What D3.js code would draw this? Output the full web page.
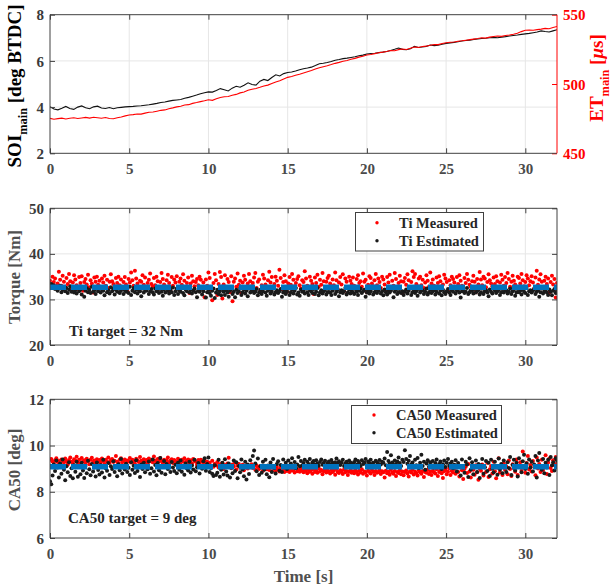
<!DOCTYPE html>
<html><head><meta charset="utf-8">
<script src="https://cdn.jsdelivr.net/npm/d3@7"></script>
<style>
body{margin:0;background:#fff}
svg{display:block}
text{font-family:"Liberation Serif","Times New Roman",serif;font-weight:bold}
</style>
</head><body><svg id="c" width="613" height="586"></svg>
<script>
// ---------- DATA ----------
const lineStep = 0.25;      // s between samples of the top-panel traces
const scatterStep = 0.08;   // s between cycles in the scatter panels
const timeDomain = [0, 32];
const xTicks = [0, 5, 10, 15, 20, 25, 30];
const soiTicks = [2, 4, 6, 8];
const etTicks = [450, 500, 550];
const torqueTicks = [20, 30, 40, 50];
const ca50Ticks = [6, 8, 10, 12];

// SOI main [deg BTDC] (black, left axis)
const soiMain = [4.02,3.92,3.88,3.95,4.03,3.94,3.90,4.00,4.05,3.97,3.93,4.01,4.04,3.96,3.94,3.98,3.93,3.97,3.99,4.01,
4.02,4.03,4.05,4.06,4.08,4.10,4.13,4.16,4.20,4.22,4.26,4.29,4.31,4.33,4.38,4.42,4.47,4.52,4.58,4.62,
4.66,4.65,4.72,4.80,4.75,4.70,4.82,4.90,4.86,4.95,5.05,4.98,4.95,5.12,5.20,5.15,5.28,5.40,5.35,5.45,
5.50,5.52,5.56,5.62,5.66,5.69,5.73,5.80,5.88,5.90,5.93,5.97,6.03,6.06,6.10,6.12,6.15,6.18,6.22,6.25,
6.30,6.32,6.33,6.36,6.38,6.41,6.45,6.50,6.56,6.50,6.48,6.53,6.63,6.58,6.60,6.63,6.69,6.66,6.68,6.72,
6.76,6.78,6.80,6.83,6.86,6.88,6.90,6.93,6.95,6.97,6.98,7.00,7.02,7.00,7.03,7.05,7.08,7.10,7.12,7.15,
7.17,7.19,7.22,7.25,7.30,7.27,7.25,7.30,7.35];

// ET main [us] (red, right axis)
const etMain = [475.2,474.6,475.0,475.4,474.8,475.3,475.6,475.1,475.5,475.9,475.4,476.0,475.7,475.3,475.8,475.1,474.9,475.6,476.2,477.0,
477.6,477.9,478.4,478.3,479.0,479.6,479.8,480.4,481.0,481.3,482.2,482.8,483.5,484.0,484.8,485.1,486.0,486.6,487.3,487.9,
488.6,488.2,489.4,490.3,490.8,491.0,491.9,492.5,493.6,494.2,495.5,496.2,496.8,497.6,498.5,499.2,500.4,501.5,502.3,503.6,
504.8,505.4,506.3,507.1,508.0,508.9,509.8,510.8,511.7,512.5,513.2,514.0,514.9,515.6,516.4,517.0,517.9,518.5,519.4,520.0,
520.9,521.3,521.9,522.6,523.0,523.5,524.2,524.0,524.8,525.3,524.9,525.8,526.7,526.4,527.1,527.3,528.0,528.5,528.4,529.2,
529.8,530.1,530.3,530.9,531.2,531.6,532.0,532.4,532.8,533.4,533.1,533.8,534.3,534.6,534.4,535.0,535.3,535.9,536.6,537.8,
538.8,538.9,538.8,539.2,539.6,540.1,539.9,540.8,541.5];

// Torque [Nm]
const torqueMeasured = [34.1,33.2,35.0,33.8,34.6,32.9,33.5,36.1,34.3,33.0,35.2,33.9,32.8,34.7,33.4,35.6,34.0,32.6,33.7,35.3,
34.4,33.1,32.3,34.9,33.6,35.1,31.9,33.8,34.5,33.3,35.4,32.7,34.2,33.5,31.5,34.8,33.9,35.0,33.2,34.1,
32.8,34.6,33.7,35.2,33.0,34.3,32.5,33.9,35.5,34.0,33.4,32.9,34.7,33.6,35.0,33.1,34.4,32.4,33.8,34.9,
33.3,31.8,34.5,33.7,35.9,34.2,33.0,36.3,34.6,33.5,32.7,34.1,33.9,35.3,33.2,34.8,32.6,33.6,34.3,35.7,
33.4,32.9,34.7,33.1,35.0,34.0,32.4,33.8,35.8,34.5,33.3,32.8,34.2,35.4,33.6,31.9,34.9,33.0,34.4,33.7,
35.1,32.7,33.9,34.6,33.2,35.5,34.1,32.5,33.6,34.8,31.4,33.5,35.2,34.0,32.9,33.8,34.5,33.1,35.0,34.3,
32.6,33.7,30.5,34.4,33.0,35.9,34.7,32.1,29.8,33.6,35.6,34.2,31.0,33.4,36.0,34.9,30.2,33.3,35.3,32.4,
34.5,33.8,31.6,35.1,29.6,33.9,34.6,32.8,35.7,33.2,34.1,31.3,33.7,35.2,34.3,32.7,33.5,35.6,34.0,32.9,
33.6,34.8,35.8,32.5,33.9,34.4,31.9,33.1,35.4,34.6,33.3,32.8,34.2,36.1,33.7,34.9,32.6,33.4,35.0,34.1,
33.0,36.5,34.7,32.3,33.8,35.3,34.0,31.7,33.5,34.9,33.2,35.6,34.3,32.9,33.6,34.5,35.1,33.1,32.4,34.2,
33.8,36.2,34.6,33.0,32.5,35.0,34.1,33.4,31.2,34.8,33.6,35.4,32.8,34.3,33.2,35.8,34.0,32.6,33.9,34.7,
35.2,33.5,32.9,34.4,33.1,35.9,34.2,32.3,33.7,34.9,33.3,35.5,31.8,34.6,33.9,32.7,35.0,34.1,33.4,34.8,
33.0,32.4,34.5,35.3,33.6,34.0,32.8,35.7,33.9,34.3,31.6,33.2,35.1,34.7,33.5,32.9,34.2,35.6,33.1,34.6,
33.8,32.5,35.0,34.4,33.3,31.9,34.9,33.7,35.4,32.8,34.1,33.0,35.8,34.5,32.6,33.6,35.2,34.0,31.4,33.9,
34.7,33.2,35.5,34.2,32.7,33.8,36.2,34.9,35.6,33.4,32.9,34.6,35.0,33.1,34.3,32.5,33.7,35.3,34.1,32.8,
35.9,33.5,34.4,33.0,32.3,34.8,33.6,35.1,34.0,32.9,33.3,35.4,34.6,33.8,31.8,34.2,33.1,35.0,34.5,33.7,
32.6,34.9,33.4,35.3,34.1,33.0,32.4,34.7,33.6,35.6,34.3,33.2,32.8,34.0,35.2,33.9,31.6,34.5,33.3,36.0,
34.4,33.1,35.0,34.6,32.7,33.8,35.5,34.2,33.5,32.9,34.8,33.4,35.1,34.0,32.5,33.7,35.4,34.3,33.0,34.9,
33.6,35.8,34.5,32.8,33.9,35.2,34.1,33.3,32.6,35.0,34.7,33.5,35.6,34.2,32.9,33.8,35.3,34.6,33.1,34.0,
35.1,33.7,32.4,34.8,36.3,33.2,34.4,35.5,33.9,32.7,34.1,35.0,33.4,34.6,31.5,33.8,35.2,33.3,34.5,30.4,
33.6];
const torqueEstimated = [32.9,33.4,32.6,33.1,32.3,32.8,31.9,32.4,33.0,31.6,32.2,32.7,31.8,32.5,31.4,32.1,32.9,31.7,32.3,31.5,
32.0,31.3,32.6,31.8,32.2,31.1,32.4,30.6,31.9,32.5,31.6,32.1,31.4,32.8,31.7,32.0,31.2,32.4,31.8,32.6,
31.5,32.2,31.9,30.9,32.5,31.6,32.0,31.3,32.7,31.8,32.3,31.1,32.1,31.7,32.4,31.4,31.9,32.6,31.2,32.0,
31.7,32.3,31.4,32.8,31.0,31.9,32.5,31.6,32.2,31.3,32.0,31.8,30.7,32.4,31.5,32.1,31.9,32.6,31.2,31.8,
32.3,31.6,31.1,32.4,31.8,32.0,31.4,32.7,31.7,30.8,32.2,31.5,32.5,31.9,31.3,32.1,31.6,32.6,31.0,31.8,
32.4,31.2,32.0,31.7,32.5,31.4,30.9,32.2,31.8,32.6,31.5,32.1,31.3,31.9,32.4,31.6,30.5,32.0,31.7,32.3,
31.1,31.8,32.5,30.4,31.6,32.2,31.4,30.8,31.9,32.4,30.3,31.5,32.1,31.2,31.8,30.9,32.3,31.7,31.0,32.0,
31.5,30.6,31.9,32.3,31.2,31.7,30.5,32.1,31.4,31.8,32.5,31.0,31.6,32.2,31.3,31.9,30.7,32.4,31.5,31.8,
32.0,31.4,31.7,32.3,30.9,31.6,32.1,31.2,31.8,32.5,31.5,30.8,31.9,32.2,31.3,31.7,32.4,31.1,31.6,32.0,
31.4,31.8,32.3,30.6,31.5,32.0,31.2,31.7,32.4,31.0,31.6,32.1,31.3,31.9,32.5,31.1,31.5,30.8,32.2,31.7,
31.9,31.3,32.4,31.6,31.0,32.1,31.8,31.4,32.3,31.2,31.7,32.5,30.9,31.5,32.0,31.3,31.8,32.2,31.1,31.6,
32.3,31.5,31.0,31.9,32.4,31.2,31.7,32.1,30.7,31.6,32.0,31.4,31.8,32.5,31.1,31.5,32.2,31.3,31.9,31.6,
31.2,32.3,31.7,31.0,31.9,32.4,31.4,31.8,32.1,30.6,31.5,32.0,31.3,31.8,32.4,31.1,31.6,32.2,31.4,31.9,
32.5,31.3,31.8,30.9,32.2,31.6,31.1,32.0,31.5,31.9,32.4,30.5,31.7,32.1,31.2,31.6,32.3,31.4,31.8,31.0,
31.7,32.2,31.3,31.9,32.5,31.0,31.6,32.1,31.4,31.8,30.8,32.3,31.5,31.9,32.0,31.2,31.7,32.4,31.1,31.6,
32.2,31.4,31.8,32.0,31.1,31.7,32.5,31.3,31.9,30.9,32.1,31.6,31.2,31.8,32.3,31.5,31.0,32.0,31.7,32.4,
31.3,31.9,32.2,31.5,30.4,31.8,32.1,31.4,31.7,32.5,31.2,31.6,32.0,31.9,31.3,32.3,31.5,31.8,32.2,31.1,
31.6,32.4,31.2,31.8,32.0,31.5,30.7,32.2,31.7,31.3,32.5,31.9,31.4,31.8,32.1,31.0,31.6,32.3,31.5,31.9,
32.0,31.3,31.7,32.4,31.2,31.8,32.1,30.8,31.5,32.3,31.6,31.9,31.1,32.2,31.7,31.4,32.5,31.0,31.8,32.0,
31.5,31.9,32.3,31.2,31.7,32.0,30.6,31.6,32.4,31.3,31.8,32.1,31.5,31.0,32.2,31.7,30.9,31.9,32.3,31.4,
31.8];
const torqueTarget = 32.7;

// CA50 [deg]
const ca50Measured = [9.38,9.42,9.31,9.25,9.36,9.45,9.29,9.33,9.21,9.40,9.35,9.27,9.44,9.32,9.18,9.37,9.48,9.30,9.24,9.41,
9.34,9.52,9.28,9.39,9.22,9.46,9.31,9.36,9.26,9.43,9.33,9.19,9.38,9.47,9.29,9.35,9.23,9.41,9.30,9.37,
9.27,9.44,9.33,9.20,9.39,9.31,9.48,9.25,9.36,9.42,9.29,9.34,9.55,9.30,9.22,9.38,9.45,9.28,9.33,9.40,
9.24,9.35,9.31,9.46,9.27,9.39,9.32,9.21,9.43,9.36,9.29,9.50,9.34,9.26,9.41,9.30,9.37,9.23,9.44,9.32,
9.38,9.28,9.53,9.35,9.25,9.42,9.31,9.46,9.33,9.22,9.39,9.30,9.36,9.48,9.27,9.34,9.41,9.24,9.37,9.32,
9.29,9.43,9.35,9.20,9.38,9.31,9.45,9.26,9.34,9.40,9.28,9.36,9.22,9.42,9.33,9.30,9.17,9.37,9.25,9.39,
9.31,9.27,9.35,9.22,9.30,9.18,9.26,9.12,9.34,9.08,9.21,9.15,9.29,9.05,9.19,9.11,9.24,8.98,9.16,9.10,
9.22,9.47,9.13,9.02,9.18,9.09,9.25,8.96,9.14,9.20,9.04,9.11,9.17,8.93,9.08,9.15,9.01,9.12,9.06,9.19,
9.03,9.10,8.95,9.14,9.07,8.99,9.12,9.05,8.91,9.09,9.02,8.97,9.11,8.94,9.06,8.89,9.04,9.00,8.92,9.08,
8.96,8.88,9.03,8.93,8.99,8.85,9.05,8.90,8.97,8.86,9.01,8.92,8.95,8.83,9.04,8.89,8.94,8.87,9.00,8.91,
8.84,8.95,8.90,8.80,8.97,8.87,8.93,8.78,8.99,8.86,8.91,8.82,9.02,8.88,8.94,8.76,8.89,8.96,8.83,8.92,
8.87,8.79,8.95,8.85,8.91,8.74,8.98,8.86,8.81,8.93,8.88,8.77,8.96,8.84,8.90,8.72,8.87,8.94,8.82,8.89,
8.80,8.93,8.86,8.75,8.91,8.83,8.97,8.78,8.88,8.84,8.70,8.92,8.85,8.79,8.95,8.87,8.73,8.90,8.82,8.86,
8.94,8.77,8.89,8.84,8.62,8.91,8.80,8.87,8.74,8.95,8.83,8.78,8.90,8.68,8.86,8.81,8.93,8.76,8.88,8.71,
8.85,8.92,8.79,8.66,8.89,8.83,8.96,8.75,8.87,8.81,8.70,8.93,8.84,8.78,8.90,8.64,8.86,8.82,8.95,8.77,
8.88,8.73,8.91,8.84,8.79,8.97,8.68,8.86,8.93,8.80,8.60,8.89,8.95,8.76,8.87,9.02,8.72,8.90,8.83,8.98,
8.78,9.05,8.86,8.66,9.12,8.93,8.55,8.99,9.08,8.81,9.20,8.88,8.62,9.03,8.95,8.74,9.15,8.84,8.52,9.01,
8.91,9.18,8.70,9.06,8.85,9.25,8.64,8.97,9.11,8.79,9.30,8.89,8.58,9.04,9.45,8.83,9.14,8.72,9.22,8.95,
9.09,8.76,9.35,8.98,8.68,9.19,9.02,8.87,9.40,8.73,9.13,9.28,8.91,9.74,9.05,8.82,9.24,9.55,8.96,9.16,
8.88,9.33,9.07,8.71,9.48,9.01,9.20,8.85,9.38,8.94,9.12,9.58,8.77,9.27,9.44,9.03,8.90,9.36,9.15,9.50,
9.22];
const ca50Estimated = [8.45,8.32,8.70,9.18,8.90,9.35,9.05,8.62,9.22,8.78,9.40,8.95,8.50,9.10,8.84,9.28,8.68,9.02,8.58,9.15,
8.87,9.30,8.65,9.08,8.76,9.25,8.92,8.60,9.12,8.80,9.34,8.97,8.71,9.20,8.88,9.05,8.66,9.27,8.94,8.75,
9.15,8.83,9.38,8.62,9.02,8.91,9.24,8.72,9.10,8.98,9.32,8.85,9.06,8.67,9.19,8.93,9.42,8.79,9.08,8.96,
9.21,8.86,9.04,8.73,9.28,8.95,9.13,8.81,9.36,8.90,9.07,8.64,9.18,8.99,9.25,8.84,9.11,8.97,9.31,8.78,
9.02,9.40,8.88,9.16,8.71,9.24,8.93,9.46,8.82,9.09,9.33,8.76,9.20,8.98,9.12,8.85,9.29,9.05,8.90,9.17,
8.80,9.26,8.95,9.35,8.87,9.10,8.74,9.22,9.01,8.92,9.30,8.83,9.14,8.96,9.38,8.89,9.06,9.24,8.79,9.13,
9.00,9.32,9.45,8.91,9.20,9.48,8.86,9.03,8.78,8.68,9.15,8.72,8.82,9.38,8.65,8.95,9.25,8.75,9.41,8.88,
8.70,9.22,8.62,9.05,8.80,9.35,8.90,9.28,8.58,9.12,8.84,9.40,8.96,8.67,9.30,8.53,9.18,8.77,9.36,9.08,
9.55,9.78,9.22,8.89,9.44,8.72,9.10,8.82,9.30,8.95,9.38,8.76,9.14,8.63,9.27,8.86,9.42,9.03,8.79,9.20,
9.32,8.91,9.16,8.85,9.40,9.06,9.25,8.98,9.35,9.12,9.22,9.45,9.08,9.29,9.02,9.18,9.50,9.10,9.33,9.14,
9.24,9.38,9.12,9.30,9.20,9.42,9.15,9.27,9.33,9.18,9.36,9.22,9.13,9.29,9.40,9.17,9.26,9.34,9.11,9.23,
9.31,9.19,9.37,9.25,9.14,9.28,9.44,9.21,9.32,9.16,9.26,9.39,9.12,9.23,9.30,9.18,9.35,9.27,9.15,9.22,
9.29,9.40,9.17,9.33,9.24,9.12,9.36,9.20,9.27,9.42,9.15,9.31,9.23,9.38,9.19,9.26,9.13,9.34,9.28,9.21,
9.37,9.18,9.30,9.25,9.44,9.15,9.72,9.33,9.22,9.58,9.27,9.16,9.35,9.20,9.31,9.48,9.24,9.12,9.39,9.29,
9.80,9.42,9.21,9.34,9.55,9.18,9.27,9.10,9.38,9.15,9.46,9.03,9.25,9.60,9.12,9.30,8.95,9.22,9.36,9.08,
9.28,9.15,9.33,9.05,9.24,9.40,9.11,9.20,9.31,8.98,9.19,9.35,9.07,9.26,9.42,9.13,9.22,9.30,9.02,9.17,
9.36,8.88,9.24,9.12,8.70,9.40,9.05,8.82,9.30,9.18,8.64,9.45,8.95,9.28,8.76,9.10,9.35,8.85,9.20,8.60,
9.15,9.42,8.78,9.06,9.33,8.90,9.25,8.68,9.38,9.00,8.83,9.30,9.12,8.74,9.44,8.95,9.20,8.80,9.35,9.08,
8.86,9.28,9.03,9.50,8.72,9.16,9.38,8.92,9.25,8.66,9.45,9.10,8.84,9.32,9.60,8.98,9.22,8.78,9.40,9.05,
9.30,8.88,9.18,9.55,8.62,9.35,9.68,9.12,8.95,9.42,8.80,9.25,9.05,9.38,8.72,9.50,9.15,9.28,8.92,9.45,
9.35];
const ca50Target = 9.08;

// ---------- DRAWING ----------
const svg = d3.select('#c');
const L = 50, R = 557;
const x = d3.scaleLinear().domain(timeDomain).range([L, R]);
const TICK_COL = '#404040', BOX_COL = '#404040', GRID_COL = '#e6e6e6';
const RED = '#ff0000', BLUE = '#0072bd', DOT_R = 2.0;

function panel(id, top, bottom, yScale, yTicks) {
  const g = svg.append('g');
  g.selectAll('.vg').data(xTicks.filter(d => d > 0)).enter().append('line')
    .attr('x1', d => x(d)).attr('x2', d => x(d)).attr('y1', top).attr('y2', bottom)
    .attr('stroke', GRID_COL).attr('stroke-width', 1);
  g.selectAll('.hg').data(yTicks.filter(d => d > yScale.domain()[0] && d < yScale.domain()[1])).enter().append('line')
    .attr('x1', L).attr('x2', R).attr('y1', d => yScale(d)).attr('y2', d => yScale(d))
    .attr('stroke', GRID_COL).attr('stroke-width', 1);
  svg.append('clipPath').attr('id', 'clip' + id).append('rect')
    .attr('x', L).attr('y', top).attr('width', R - L).attr('height', bottom - top);
  const data = svg.append('g').attr('clip-path', `url(#clip${id})`);
  return {g, data};
}
function frame(top, bottom, yScale, yTicks, rightAxis) {
  const g = svg.append('g');
  const ax = g.append('g').attr('transform', `translate(0,${bottom})`)
    .call(d3.axisBottom(x).tickValues(xTicks).tickSize(-5).tickPadding(10.5).tickFormat(d3.format('d')));
  const at = g.append('g').attr('transform', `translate(0,${top})`)
    .call(d3.axisTop(x).tickValues(xTicks).tickSize(-5).tickFormat(''));
  const al = g.append('g').attr('transform', `translate(${L},0)`)
    .call(d3.axisLeft(yScale).tickValues(yTicks).tickSize(-5).tickPadding(6).tickFormat(d3.format('d')));
  let ar;
  if (rightAxis) {
    ar = g.append('g').attr('transform', `translate(${R},0)`)
      .call(d3.axisRight(rightAxis.scale).tickValues(rightAxis.ticks).tickSize(-5).tickPadding(6).tickFormat(d3.format('d')));
    ar.attr('color', RED);
    ar.selectAll('text').attr('fill', RED);
  } else {
    ar = g.append('g').attr('transform', `translate(${R},0)`)
      .call(d3.axisRight(yScale).tickValues(yTicks).tickSize(-5).tickFormat(''));
  }
  [ax, at, al].forEach(a => a.attr('color', TICK_COL));
  if (!rightAxis) ar.attr('color', TICK_COL);
  g.selectAll('.domain').remove();
  g.selectAll('text').attr('font-size', 15).attr('font-family', '"Liberation Serif",serif').attr('font-weight', 'bold');
  ax.selectAll('text').attr('fill', '#4a4a4a');
  al.selectAll('text').attr('fill', '#3a3a3a');
  al.selectAll('.tick text').attr('dy', '0.34em');
  if (rightAxis) ar.selectAll('.tick text').attr('dy', '0.34em');
  g.append('path').attr('d', `M${R},${bottom}H${L}V${top}H${R}`)
    .attr('fill', 'none').attr('stroke', BOX_COL).attr('stroke-width', 1);
  g.append('line').attr('x1', R).attr('x2', R).attr('y1', top).attr('y2', bottom)
    .attr('stroke', rightAxis ? RED : BOX_COL).attr('stroke-width', 1);
}

// ---- Panel 1 ----
const t1 = 14.7, b1 = 153.3;
const ySoi = d3.scaleLinear().domain([2, 8]).range([b1, t1]);
const yEt = d3.scaleLinear().domain([450, 550]).range([b1, t1]);
const p1 = panel(1, t1, b1, ySoi, soiTicks);
p1.data.append('path').datum(soiMain)
  .attr('d', d3.line().x((d, i) => x(i * lineStep)).y(d => ySoi(d)))
  .attr('fill', 'none').attr('stroke', '#111').attr('stroke-width', 1.1);
p1.data.append('path').datum(etMain)
  .attr('d', d3.line().x((d, i) => x(i * lineStep)).y(d => yEt(d)))
  .attr('fill', 'none').attr('stroke', RED).attr('stroke-width', 1.1);
frame(t1, b1, ySoi, soiTicks, {scale: yEt, ticks: etTicks});

// ---- Panel 2 ----
const t2 = 208.3, b2 = 345;
const yTq = d3.scaleLinear().domain([20, 50]).range([b2, t2]);
const p2 = panel(2, t2, b2, yTq, torqueTicks);
p2.data.selectAll('.rm').data(torqueMeasured).enter().append('circle')
  .attr('cx', (d, i) => x(i * scatterStep)).attr('cy', d => yTq(d)).attr('r', DOT_R).attr('fill', RED);
p2.data.selectAll('.be').data(torqueEstimated).enter().append('circle')
  .attr('cx', (d, i) => x(i * scatterStep)).attr('cy', d => yTq(d)).attr('r', DOT_R).attr('fill', '#1a1a1a');
p2.data.append('line').attr('x1', x(timeDomain[0])).attr('x2', x(timeDomain[1]))
  .attr('y1', yTq(torqueTarget)).attr('y2', yTq(torqueTarget))
  .attr('stroke', BLUE).attr('stroke-width', 5.5).attr('stroke-dasharray', '16,5');
frame(t2, b2, yTq, torqueTicks, null);

// ---- Panel 3 ----
const t3 = 399.3, b3 = 538;
const yCa = d3.scaleLinear().domain([6, 12]).range([b3, t3]);
const p3 = panel(3, t3, b3, yCa, ca50Ticks);
p3.data.selectAll('.rm').data(ca50Measured).enter().append('circle')
  .attr('cx', (d, i) => x(i * scatterStep)).attr('cy', d => yCa(d)).attr('r', DOT_R).attr('fill', RED);
p3.data.selectAll('.be').data(ca50Estimated).enter().append('circle')
  .attr('cx', (d, i) => x(i * scatterStep)).attr('cy', d => yCa(d)).attr('r', DOT_R).attr('fill', '#1a1a1a');
p3.data.append('line').attr('x1', x(timeDomain[0])).attr('x2', x(timeDomain[1]))
  .attr('y1', yCa(ca50Target)).attr('y2', yCa(ca50Target))
  .attr('stroke', BLUE).attr('stroke-width', 5.5).attr('stroke-dasharray', '16,5');
frame(t3, b3, yCa, ca50Ticks, null);

// ---- Labels ----
function vlabel(xp, yc, parts, color, size) {
  const t = svg.append('text').attr('transform', `translate(${xp},${yc}) rotate(-90)`)
    .attr('text-anchor', 'middle').attr('fill', color).attr('font-size', size);
  parts.forEach(p => {
    const s = t.append('tspan').text(p.t);
    if (p.sub) s.attr('font-size', size * 0.65).attr('dy', size * 0.3);
    if (p.back) s.attr('dy', -size * 0.3);
    if (p.it) s.attr('font-style', 'italic');
  });
}
vlabel(21, 86, [{t: 'SOI'}, {t: 'main', sub: true}, {t: ' [deg BTDC]', back: true}], '#000', 19);
vlabel(603, 78, [{t: 'ET'}, {t: 'main', sub: true}, {t: ' [', back: true}, {t: 'μ', it: true}, {t: 's]'}], RED, 19);
vlabel(20, 277, [{t: 'Torque [Nm]'}], '#505050', 17);
vlabel(20, 470, [{t: 'CA50 [deg]'}], '#505050', 17);
svg.append('text').attr('x', (L + R) / 2).attr('y', 582).attr('text-anchor', 'middle')
  .attr('font-size', 17).attr('fill', '#505050').text('Time [s]');

// annotations
svg.append('text').attr('x', 69).attr('y', 336).attr('font-size', 15).attr('fill', '#262626').text('Ti target = 32 Nm');
svg.append('text').attr('x', 68).attr('y', 523).attr('font-size', 15).attr('fill', '#262626').text('CA50 target = 9 deg');

// legends
function legend(x0, y0, w, h, dotX, rows) {
  const g = svg.append('g');
  g.append('rect').attr('x', x0).attr('y', y0).attr('width', w).attr('height', h)
    .attr('fill', '#fff').attr('stroke', '#404040').attr('stroke-width', 1);
  rows.forEach(r => {
    g.append('circle').attr('cx', dotX).attr('cy', r.y).attr('r', 1.7).attr('fill', r.c);
    g.append('text').attr('x', dotX + 22).attr('y', r.y + 5).attr('font-size', 14.5).attr('fill', '#262626').text(r.t);
  });
}
legend(355.5, 212.5, 128, 38.5, 377, [{y: 222.7, c: RED, t: 'Ti Measured'}, {y: 240.7, c: '#1a1a1a', t: 'Ti Estimated'}]);
legend(351.5, 405.5, 150, 38, 374, [{y: 415, c: RED, t: 'CA50 Measured'}, {y: 432.7, c: '#1a1a1a', t: 'CA50 Estimated'}]);
</script>
</body></html>
